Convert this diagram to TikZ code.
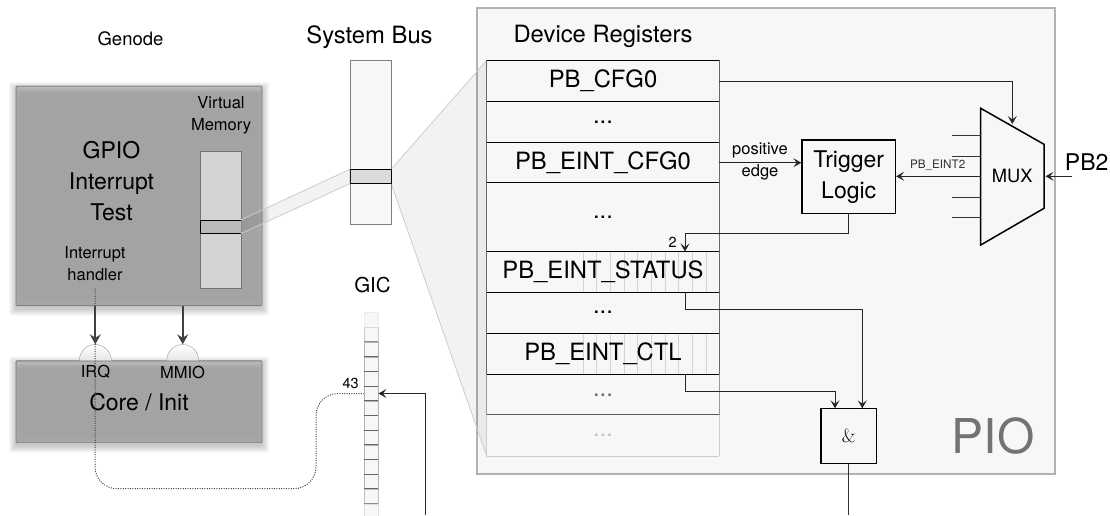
\documentclass[tikz,border=0pt]{standalone}
\usepackage{fontspec}
\setmainfont{TeX Gyre Heros}
\usetikzlibrary{arrows.meta,shapes.geometric,backgrounds}
\newcommand{\softbox}[5]{
  \foreach \r in {1,...,7}
    \fill[black,opacity=.03,rounded corners=2] ({#2-\r},{#3-\r+3}) rectangle ({#4+\r},{#5+\r+3});
  \node[softnode, minimum width=#4-#2, minimum height=#5-#3] (#1) at ({(#2+#4)/2},{(#3+#5)/2}) {};
  \foreach \r in {1,...,4}
    \draw[white,opacity=.035,line width=1] ({#2+\r},{#3+\r}) rectangle ({#4-\r},{#5-\r});
  \foreach \r in {2,...,7}
    \fill[white,opacity=.04] ({#2+1},{#3+1}) rectangle ({#4-1},{#3+\r});
}
\tikzset{
  big/.style={font=\fontsize{23}{31}\selectfont, align=center, inner sep=0},
  wide/.style={font=\fontsize{23.8}{31}\selectfont, align=center, inner sep=0},
  mid/.style={font=\fontsize{16.5}{21.5}\selectfont, align=center, inner sep=0},
  tiny/.style={font=\fontsize{14.5}{18}\selectfont, inner sep=0},
  softnode/.style={draw=black!50, fill=black!36, rounded corners=1, inner sep=0, line width=.8},
  regrow/.style={fill=black!3, inner sep=0, minimum width=232, minimum height=41, wide},
  logicbox/.style={draw=black, fill=black!3, line width=1.5, inner sep=0},
  capnode/.style={semicircle, draw=black!40, top color=white, bottom color=black!10, minimum width=32, minimum height=16, inner sep=0, anchor=chord center},
  wire/.style={draw=black!85, line width=1, -{Stealth[length=8,width=9,inset=3.5]}},
  pipe/.style={draw=black!75, line width=1.8, -{Stealth[length=10,width=11,inset=3.5]}},
  zoomband/.style={fill=black, fill opacity=.05, draw=black!20, line width=.8}
}
\begin{document}
\begin{tikzpicture}[x=1pt,y=-1pt]
  \useasboundingbox (0,0) rectangle (1110,515);

  % left side
  \node[font=\fontsize{18.5}{22}\selectfont, inner sep=0] (genodetitle) at (130.5,39) {Genode};
  \softbox{genode}{16}{86}{262}{305.6}
  \softbox{core}{16}{360.7}{262}{442.7}
  \node[big] (test) at (111.5,181) {GPIO\\Interrupt\\Test};
  \node[mid] (vmtitle) at (221,115.5) {Virtual\\Memory};
  \node[mid] (handler) at (95,263.5) {Interrupt\\handler};
  \node[draw=black!55, fill=black!17, minimum width=40.5, minimum height=137, inner sep=0] (vmem) at (220.8,219.8) {};
  \node[draw=black, fill=black!27, minimum width=40.5, minimum height=13.3, inner sep=0] (vmsel) at (220.8,226.6) {};
  \node[capnode] (irqcap) at (95.3,360.7) {};
  \node[capnode] (mmiocap) at (182.7,360.7) {};
  \node[mid] (irq) at (95.5,372) {IRQ};
  \node[mid] (mmio) at (182.5,372) {MMIO};
  \node[big] (corelabel) at (139,402) {Core / Init};
  \draw[pipe] (irqcap.apex |- genode.south) -- (irqcap.apex);
  \draw[pipe] (mmiocap.apex |- genode.south) -- (mmiocap.apex);

  % system bus
  \node[wide] (bustitle) at (369.5,37) {System Bus};
  \node[draw=black!50, fill=black!3, minimum width=41, minimum height=164, inner sep=0] (bus) at (370.5,142.5) {};
  \node[draw=black, fill=black!14, minimum width=41, minimum height=14, inner sep=0] (bussel) at (370.5,176.5) {};
  \draw[zoomband] (vmsel.north east) -- (bussel.north west) -- (bussel.south west) -- (vmsel.south east) -- cycle;

  % gic
  \node[font=\fontsize{20.5}{24}\selectfont, inner sep=0] (gictitle) at (372.5,285) {GIC};
  \foreach \i/\c in {0/8,1/20,2/30,3/30,4/30,5/30,6/30,7/30,8/30,9/30,10/30,11/30,12/25,13/12,14/8}
    \node[draw=black!\c, fill=black!3, minimum width=14.3, minimum height=14.7, inner sep=0] (gic\i) at (371.1,{320+14.7*\i}) {};
  \foreach \i/\c in {1/15,2/45,3/60,4/60,5/60,6/60,7/60,8/60,9/60,10/60,11/60,12/60,13/45,14/15}
    \draw[black!\c, line width=.9] (gic\i.north west) -- (gic\i.north east);
  \node[tiny, anchor=east] (gicnr) at (359,383.5) {43};
  \coordinate (irqline) at (425.6,515);
  \coordinate (dotturn) at (316,488.7);
  \draw[wire] (irqline) |- (gic5.east);
  \draw[black!75, line width=1, dash pattern=on 1 off 1.4, rounded corners=22] ([yshift=-8pt]handler.south) |- (dotturn) |- (gic5.west);

  % device registers
  \node[wide] (regtitle) at (603,36.5) {Device Registers};
  \node[regrow] (regcfg) at (603,81) {PB\_CFG0};
  \node[regrow] (regdotsa) at (603,122) {...};
  \node[regrow] (regeint) at (603,162.7) {PB\_EINT\_CFG0};
  \node[regrow, minimum height=68.5] (regdotsb) at (603,217.2) {...};
  \node[regrow] (regstatus) at (603,271.7) {};
  \node[regrow] (regdotsc) at (603,312.7) {...};
  \node[regrow] (regctl) at (603,354) {};
  \node[regrow, text=black!60] (regdotsd) at (603,395) {...};
  \node[regrow, text=black!25] (regdotse) at (603,435.5) {...};
  \begin{scope}[on background layer]
    \node[draw=black!30, fill=black!3, line width=1.2, minimum width=578, minimum height=466, inner sep=0] (pio) at (766,241) {};
    \draw[zoomband] (bussel.north east) -- (regcfg.north west) -- (regdotse.south west) -- (bussel.south east) -- cycle;
  \end{scope}
  \foreach \n in {582.7,596.4,...,706}
    \foreach \r in {regstatus,regctl}
      \draw[black!17] (\n,0 |- \r.north) -- (\n,0 |- \r.south);
  \node[wide] (statustext) at (regstatus) {PB\_EINT\_STATUS};
  \node[wide] (ctltext) at (regctl) {PB\_EINT\_CTL};
  \foreach \r in {regcfg,regdotsa,regeint,regdotsb,regstatus,regdotsc,regctl}
    \draw[black, line width=.9] (\r.north west) -- (\r.north east);
  \draw[black, line width=.9] (regctl.south west) -- (regctl.south east);
  \draw[black!65, line width=.9] (regdotse.north west) -- (regdotse.north east);
  \draw[black!20, line width=.9] (regdotse.south west) -- (regdotse.south east);
  \draw[black!60, line width=1.3] (regcfg.north west) -- (regctl.south west);
  \draw[black!60, line width=1] (regcfg.north east) -- (regctl.south east);
  \draw[black!40, line width=1] (regdotsd.north west) -- (regdotsd.south west);
  \draw[black!40, line width=1] (regdotsd.north east) -- (regdotsd.south east);
  \draw[black!20, line width=1] (regdotse.north west) -- (regdotse.south west);
  \draw[black!20, line width=1] (regdotse.north east) -- (regdotse.south east);

  % logic
  \node[logicbox, big, minimum width=93.3, minimum height=73.3] (trigger) at (848.7,176.7) {Trigger\\Logic};
  \node[logicbox, minimum width=55.4, minimum height=55] (andgate) at (848.7,435.8) {\fontsize{19}{20}\fontfamily{lmr}\selectfont\&};
  \coordinate (muxa) at (980.7,108.3);
  \coordinate (muxb) at (1044,144.3);
  \coordinate (muxc) at (1044,208.3);
  \coordinate (muxd) at (980.7,245);
  \coordinate (muxsel) at (1012.3,124);
  \coordinate (muxout) at (980.7,176.3);
  \draw[line width=1.5, fill=black!3, line join=miter] (muxa) -- (muxb) -- (muxc) -- (muxd) -- cycle;
  \node[font=\fontsize{18.3}{22}\selectfont, inner sep=0] (mux) at (1012.3,176.3) {MUX};
  \foreach \y in {135.7,156,197,217.3}
    \draw[black!80, line width=.9] (952.3,\y) -- (980.7,\y);
  \node[big] (pbtwo) at (1086.7,161.7) {PB2};
  \coordinate (pbin) at (1072.3,176.3);
  \node[font=\fontsize{11.7}{14}\selectfont, inner sep=0, text=black!80] (eintlabel) at (937.7,165.7) {PB\_EINT2};
  \node[font=\fontsize{48}{50}\selectfont, inner sep=0, text=black!55] (piolabel) at (993,436) {PIO};
  \node[mid] (edgelabel) at (760,161.5) {positive\\edge};
  \node[tiny] (twolabel) at (672.7,242.7) {2};

  \coordinate (statusout) at (685,292);
  \coordinate (ctlout) at (685,374.7);
  \coordinate (statusin) at (685,251.5);
  \coordinate (andright) at (862.3,408.3);
  \coordinate (andleft) at (835,408.3);
  \coordinate (gicdown) at (848.7,515);
  \draw[wire] (regcfg.east) -| (muxsel);
  \draw[wire] (regeint.east) -- (trigger.west |- regeint.east);
  \draw[wire] (muxout) -- (trigger.east |- muxout);
  \draw[wire] (pbin) -- (1045.5,176.3);
  \draw[wire] (trigger.south) |- (685,233.3) -- (statusin);
  \draw[wire] (statusout) |- (862.3,309.7) -- (andright);
  \draw[wire] (ctlout) |- (835,391) -- (andleft);
  \draw[black!80, line width=.9] (andgate.south) -- (gicdown);
\end{tikzpicture}
\end{document}
